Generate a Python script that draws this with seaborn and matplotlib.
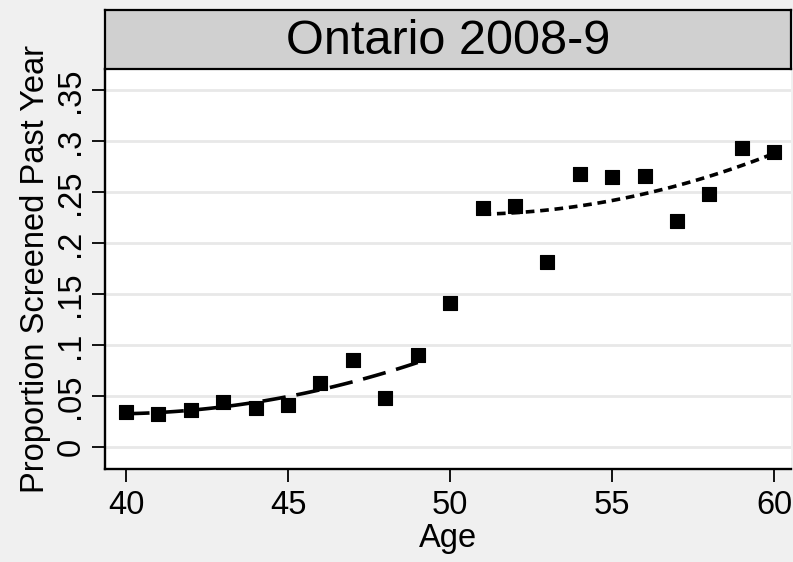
import numpy as np
import pandas as pd
import seaborn as sns
import matplotlib.pyplot as plt

# values
ages = [40, 41, 42, 43, 44, 45, 46, 47, 48, 49, 50,
        51, 52, 53, 54, 55, 56, 57, 58, 59, 60]
screened = [0.034, 0.032, 0.036, 0.044, 0.038, 0.041, 0.063, 0.085, 0.048, 0.090, 0.141,
            0.234, 0.236, 0.181, 0.268, 0.265, 0.266, 0.222, 0.248, 0.293, 0.289]
y_ticks = [0, 0.05, 0.1, 0.15, 0.2, 0.25, 0.3, 0.35]
y_labels = ["0", ".05", ".1", ".15", ".2", ".25", ".3", ".35"]
x_ticks = [40, 45, 50, 55, 60]
title = "Ontario 2008-9"

df = pd.DataFrame({"age": ages, "share": screened})
below = df[df["age"] < 50]
above = df[df["age"] > 50]

sns.set_style("white")
plt.rcParams['font.family'] = ['Liberation Sans', 'DejaVu Sans']
plt.rcParams.update({'text.color': 'black', 'axes.labelcolor': 'black',
                     'xtick.color': 'black', 'ytick.color': 'black'})

W, H = 793, 562
fig = plt.figure(figsize=(W / 100, H / 100), dpi=100, facecolor='#f0f0f0')

# plot region
ax = fig.add_axes([105 / W, 1 - 469 / H, 686 / W, 400 / H])
ax.set_facecolor('white')
for yt in y_ticks:
    ax.axhline(yt, color='#e8e8e8', lw=2, zorder=0)

# quadratic fits either side of 50
sns.regplot(data=below, x="age", y="share", order=2, ci=None, scatter=False,
            color='black', truncate=True, ax=ax,
            line_kws=dict(lw=2.6, linestyle=(0, (6.5, 3)), zorder=2))
sns.regplot(data=above, x="age", y="share", order=2, ci=None, scatter=False,
            color='black', truncate=True, ax=ax,
            line_kws=dict(lw=2.6, linestyle=(0, (2.4, 1.6)), zorder=2))

sns.scatterplot(data=df, x="age", y="share", marker='s', s=100, color='black',
                edgecolor='black', linewidth=0.8, zorder=3, ax=ax)

ax.set_xlim(39.35, 60.52)
ax.set_ylim(-0.0216, 0.3706)
ax.set_xticks(x_ticks)
ax.set_xticklabels([str(t) for t in x_ticks])
ax.set_yticks(y_ticks)
ax.set_yticklabels(y_labels, rotation=90, va='center')
ax.tick_params(axis='both', direction='out', length=9.4, width=1.3,
               labelsize=23.5, color='black', labelcolor='black',
               left=True, bottom=True)
ax.tick_params(axis='x', pad=6)
ax.tick_params(axis='y', pad=4)
ax.set_xlabel("Age", fontsize=23.5, labelpad=1, color='black')
ax.set_ylabel("Proportion Screened Past Year", fontsize=23.5, labelpad=3,
              color='black')

for side in ['top', 'right']:
    ax.spines[side].set_visible(False)
for side in ['left', 'bottom']:
    ax.spines[side].set_color('black')
    ax.spines[side].set_linewidth(1.7)

# grey title strip
tax = fig.add_axes([105 / W, 1 - 69 / H, 686 / W, 59 / H])
tax.set_facecolor('#d0d0d0')
tax.set_xticks([])
tax.set_yticks([])
for s in tax.spines.values():
    s.set_color('black')
    s.set_linewidth(1.6)
tax.text(0.5, 0.47, title, ha='center', va='center', fontsize=35,
         color='black', transform=tax.transAxes)

fig.savefig("out.png", dpi=100, facecolor=fig.get_facecolor())
